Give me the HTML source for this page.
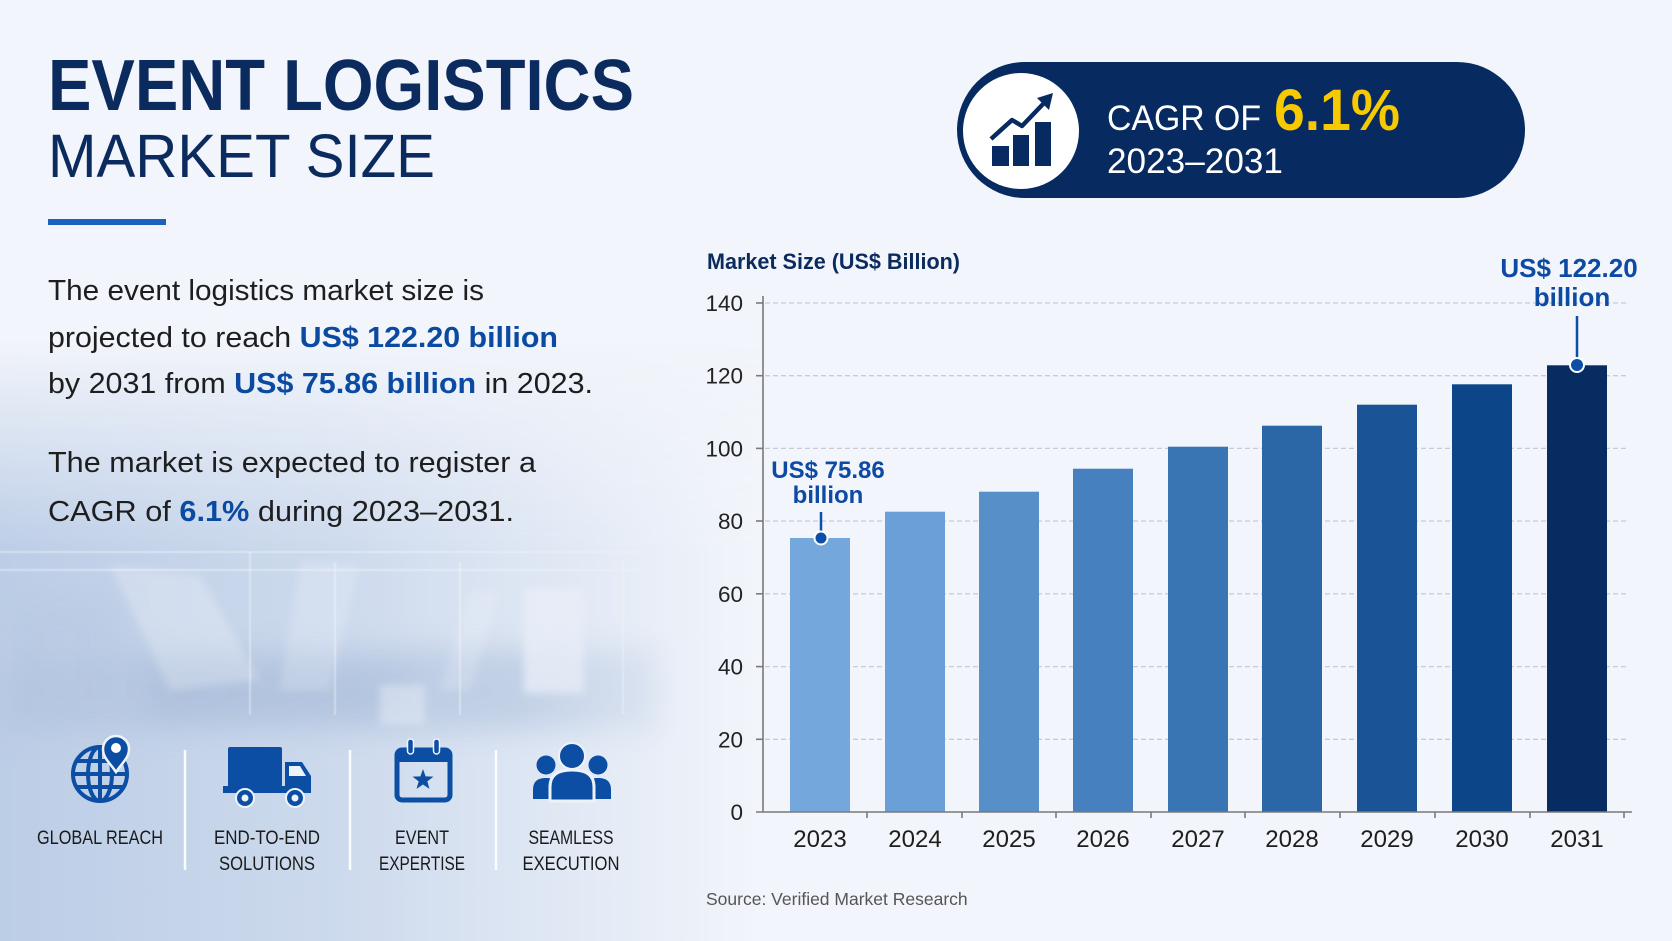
<!DOCTYPE html>
<html>
<head>
<meta charset="utf-8">
<style>
  html, body { margin:0; padding:0; background:#f2f5fb; }
  body { width:1672px; height:941px; overflow:hidden; }
  svg { display:block; }
  text { font-family: "Liberation Sans", sans-serif; }
</style>
</head>
<body>
<svg width="1672" height="941" viewBox="0 0 1672 941" xmlns="http://www.w3.org/2000/svg">
  <defs>
    <linearGradient id="photoH" x1="0" y1="0" x2="1" y2="0">
      <stop offset="0" stop-color="#bccde6"/>
      <stop offset="0.45" stop-color="#cddaed"/>
      <stop offset="1" stop-color="#f2f5fb"/>
    </linearGradient>
    <linearGradient id="fadeV" x1="0" y1="0" x2="0" y2="1">
      <stop offset="0" stop-color="#fff" stop-opacity="0"/>
      <stop offset="0.35" stop-color="#fff" stop-opacity="1"/>
      <stop offset="1" stop-color="#fff" stop-opacity="1"/>
    </linearGradient>
    <mask id="mV" maskUnits="userSpaceOnUse" x="0" y="340" width="760" height="601">
      <rect x="0" y="340" width="760" height="601" fill="url(#fadeV)"/>
    </mask>
    <linearGradient id="fadeH" x1="0" y1="0" x2="1" y2="0">
      <stop offset="0" stop-color="#fff" stop-opacity="1"/>
      <stop offset="0.7" stop-color="#fff" stop-opacity="0.8"/>
      <stop offset="1" stop-color="#fff" stop-opacity="0"/>
    </linearGradient>
    <mask id="mH" maskUnits="userSpaceOnUse" x="0" y="340" width="740" height="601">
      <rect x="0" y="340" width="740" height="601" fill="url(#fadeH)"/>
    </mask>
    <filter id="blur4" x="-10%" y="-10%" width="120%" height="120%"><feGaussianBlur stdDeviation="4"/></filter>
    <filter id="blur14" x="-30%" y="-60%" width="160%" height="220%"><feGaussianBlur stdDeviation="14"/></filter>
  </defs>

  <!-- background -->
  <rect x="0" y="0" width="1672" height="941" fill="#f2f5fb"/>
  <g mask="url(#mV)">
    <rect x="0" y="340" width="760" height="601" fill="url(#photoH)"/>
  </g>
  <!-- stage photo approximation -->
  <g mask="url(#mH)">
    <g filter="url(#blur14)" opacity="0.8">
      <rect x="0" y="650" width="660" height="80" fill="#b3c5df"/>
      <rect x="0" y="600" width="120" height="60" fill="#b9cae3"/>
      <rect x="150" y="665" width="260" height="55" fill="#a9bcd9"/>
    </g>
    <g filter="url(#blur4)">
      <rect x="524" y="588" width="60" height="105" fill="#eef2f9" opacity="0.75"/>
      <rect x="380" y="685" width="45" height="40" fill="#e6ecf6" opacity="0.55"/>
      <polygon points="110,565 200,575 260,680 170,690" fill="#ffffff" opacity="0.25"/>
      <polygon points="300,560 360,565 330,690 280,690" fill="#ffffff" opacity="0.2"/>
      <polygon points="470,590 500,590 470,690 440,690" fill="#ffffff" opacity="0.2"/>
    </g>
    <g stroke="#ffffff" stroke-opacity="0.3" stroke-width="2.5" fill="none">
      <path d="M0 552 L640 552 M0 570 L640 570"/>
      <path d="M250 552 V715 M335 562 V715 M460 562 V715 M623 562 V715"/>
    </g>
  </g>

  <!-- Title -->
  <text x="48" y="110" font-size="72" font-weight="700" fill="#0b2a5e" textLength="586" lengthAdjust="spacingAndGlyphs">EVENT LOGISTICS</text>
  <text x="48" y="177" font-size="61" font-weight="400" fill="#0b2a5e" textLength="387" lengthAdjust="spacingAndGlyphs">MARKET SIZE</text>
  <rect x="48" y="219" width="118" height="6" fill="#1a62bd"/>

  <!-- Paragraphs -->
  <g font-size="29" fill="#1e1e1e">
    <text x="48" y="300" textLength="436" lengthAdjust="spacingAndGlyphs">The event logistics market size is</text>
    <text x="48" y="347" textLength="510" lengthAdjust="spacingAndGlyphs">projected to reach <tspan font-weight="700" fill="#0b4aa1">US$ 122.20 billion</tspan></text>
    <text x="48" y="393" textLength="545" lengthAdjust="spacingAndGlyphs">by 2031 from <tspan font-weight="700" fill="#0b4aa1">US$ 75.86 billion</tspan> in 2023.</text>
    <text x="48" y="472" textLength="488" lengthAdjust="spacingAndGlyphs">The market is expected to register a</text>
    <text x="48" y="521" textLength="466" lengthAdjust="spacingAndGlyphs">CAGR of <tspan font-weight="700" fill="#0b4aa1">6.1%</tspan> during 2023–2031.</text>
  </g>

  <!-- separators -->
  <g stroke="#ffffff" stroke-width="2.5" opacity="0.9">
    <line x1="185" y1="750" x2="185" y2="870"/>
    <line x1="350" y1="750" x2="350" y2="870"/>
    <line x1="496" y1="750" x2="496" y2="870"/>
  </g>

  <!-- Globe icon -->
  <g stroke="#0b4ea3" stroke-width="4" fill="none">
    <circle cx="100" cy="774" r="27"/>
    <ellipse cx="100" cy="774" rx="12" ry="27"/>
    <line x1="100" y1="747" x2="100" y2="801"/>
    <line x1="73" y1="774" x2="127" y2="774"/>
    <path d="M77 761 H123 M77 787 H123"/>
  </g>
  <path d="M116 772 C110 763 103 758 103 749 A13 13 0 1 1 129 749 C129 758 122 763 116 772 Z" fill="#0b4ea3" stroke="#eef2f9" stroke-width="2.5"/>
  <circle cx="116" cy="748" r="5" fill="#ffffff"/>

  <!-- Truck icon -->
  <g fill="#0b4ea3">
    <rect x="228" y="747" width="54" height="40" rx="2"/>
    <path d="M285 762 H302 L311 776 V793 H285 Z"/>
    <rect x="223" y="786" width="88" height="7"/>
    <circle cx="245" cy="798" r="9" stroke="#eef2f9" stroke-width="2"/>
    <circle cx="295" cy="798" r="9" stroke="#eef2f9" stroke-width="2"/>
  </g>
  <path d="M289 766 H300 L306 776 H289 Z" fill="#eef2f9"/>
  <circle cx="245" cy="798" r="3.5" fill="#eef2f9"/>
  <circle cx="295" cy="798" r="3.5" fill="#eef2f9"/>

  <!-- Calendar icon -->
  <rect x="397" y="750" width="53" height="50" rx="5" fill="none" stroke="#0b4ea3" stroke-width="5"/>
  <rect x="397" y="750" width="53" height="12" fill="#0b4ea3"/>
  <rect x="407.5" y="739" width="6" height="15" rx="3" fill="#0b4ea3" stroke="#eef2f9" stroke-width="1.5"/>
  <rect x="433.5" y="739" width="6" height="15" rx="3" fill="#0b4ea3" stroke="#eef2f9" stroke-width="1.5"/>
  <polygon points="423,769 425.6,776.4 433.5,776.6 427.3,781.4 429.5,788.9 423,784.5 416.5,788.9 418.7,781.4 412.5,776.6 420.4,776.4" fill="#0b4ea3"/>

  <!-- People icon -->
  <g fill="#0b4ea3">
    <circle cx="546" cy="765" r="9.5"/>
    <circle cx="598" cy="765" r="9.5"/>
    <path d="M533 799 V790 C533 781 538 778 546 778 C554 778 558 781 558 790 V799 Z"/>
    <path d="M586 799 V790 C586 781 590 778 598 778 C606 778 611 781 611 790 V799 Z"/>
    <circle cx="572" cy="756" r="13" stroke="#eef2f9" stroke-width="2"/>
    <path d="M550 801 V787 C550 774 559 770 572 770 C585 770 594 774 594 787 V801 Z" stroke="#eef2f9" stroke-width="3"/>
  </g>

  <!-- icon labels -->
  <g font-size="19" fill="#1a1a1a" text-anchor="middle">
    <text x="100" y="844" textLength="126" lengthAdjust="spacingAndGlyphs">GLOBAL REACH</text>
    <text x="267" y="844" textLength="106" lengthAdjust="spacingAndGlyphs">END-TO-END</text>
    <text x="267" y="870" textLength="96" lengthAdjust="spacingAndGlyphs">SOLUTIONS</text>
    <text x="422" y="844" textLength="54" lengthAdjust="spacingAndGlyphs">EVENT</text>
    <text x="422" y="870" textLength="86" lengthAdjust="spacingAndGlyphs">EXPERTISE</text>
    <text x="571" y="844" textLength="85" lengthAdjust="spacingAndGlyphs">SEAMLESS</text>
    <text x="571" y="870" textLength="97" lengthAdjust="spacingAndGlyphs">EXECUTION</text>
  </g>

  <!-- CAGR badge -->
  <rect x="957" y="62" width="568" height="136" rx="68" fill="#072a61"/>
  <circle cx="1021" cy="131" r="58" fill="#ffffff"/>
  <g fill="#072a61">
    <rect x="992" y="146" width="17" height="20"/>
    <rect x="1013" y="135" width="16" height="31"/>
    <rect x="1035" y="122" width="16" height="44"/>
    <polygon points="1053,93 1037,98 1049,110"/>
  </g>
  <polyline points="991,139 1012,120 1022,126 1045,102" fill="none" stroke="#072a61" stroke-width="4.5" stroke-linejoin="round"/>
  <text x="1107" y="130" font-size="35" fill="#ffffff" textLength="154" lengthAdjust="spacingAndGlyphs">CAGR OF</text>
  <text x="1274" y="130" font-size="58" font-weight="700" fill="#f7c900" textLength="126" lengthAdjust="spacingAndGlyphs">6.1%</text>
  <text x="1107" y="173" font-size="35" fill="#ffffff" textLength="176" lengthAdjust="spacingAndGlyphs">2023–2031</text>

  <!-- Chart title -->
  <text x="707" y="269" font-size="22" font-weight="700" fill="#0b2a5e" textLength="253" lengthAdjust="spacingAndGlyphs">Market Size (US$ Billion)</text>

  <!-- gridlines -->
  <g stroke="#c9ccd3" stroke-width="1.3" stroke-dasharray="5 3">
    <line x1="765" y1="303" x2="1627" y2="303"/>
    <line x1="765" y1="375.7" x2="1627" y2="375.7"/>
    <line x1="765" y1="448.4" x2="1627" y2="448.4"/>
    <line x1="765" y1="521" x2="1627" y2="521"/>
    <line x1="765" y1="593.8" x2="1627" y2="593.8"/>
    <line x1="765" y1="666.6" x2="1627" y2="666.6"/>
    <line x1="765" y1="739.3" x2="1627" y2="739.3"/>
  </g>

  <!-- bars -->
  <rect x="790" y="538" width="60" height="274" fill="#74a7dc"/>
  <rect x="885" y="511.7" width="60" height="300.3" fill="#6a9fd7"/>
  <rect x="979" y="491.7" width="60" height="320.3" fill="#578fc8"/>
  <rect x="1073" y="468.7" width="60" height="343.3" fill="#4680bf"/>
  <rect x="1168" y="446.7" width="60" height="365.3" fill="#3a75b3"/>
  <rect x="1262" y="425.7" width="60" height="386.3" fill="#2b66a7"/>
  <rect x="1357" y="404.7" width="60" height="407.3" fill="#1a5396"/>
  <rect x="1452" y="384.3" width="60" height="427.7" fill="#0c4588"/>
  <rect x="1547" y="365.3" width="60" height="446.7" fill="#072c62"/>

  <!-- axes -->
  <g stroke="#7a7a7a" stroke-width="1.6">
    <line x1="763" y1="296" x2="763" y2="812"/>
    <line x1="756" y1="812" x2="1632" y2="812"/>
    <line x1="756" y1="303" x2="763" y2="303"/>
    <line x1="756" y1="375.7" x2="763" y2="375.7"/>
    <line x1="756" y1="448.4" x2="763" y2="448.4"/>
    <line x1="756" y1="521" x2="763" y2="521"/>
    <line x1="756" y1="593.8" x2="763" y2="593.8"/>
    <line x1="756" y1="666.6" x2="763" y2="666.6"/>
    <line x1="756" y1="739.3" x2="763" y2="739.3"/>
    <line x1="867" y1="812" x2="867" y2="818"/>
    <line x1="962" y1="812" x2="962" y2="818"/>
    <line x1="1056" y1="812" x2="1056" y2="818"/>
    <line x1="1151" y1="812" x2="1151" y2="818"/>
    <line x1="1245" y1="812" x2="1245" y2="818"/>
    <line x1="1340" y1="812" x2="1340" y2="818"/>
    <line x1="1435" y1="812" x2="1435" y2="818"/>
    <line x1="1530" y1="812" x2="1530" y2="818"/>
    <line x1="1624" y1="812" x2="1624" y2="818"/>
  </g>

  <!-- y labels -->
  <g font-size="22.5" fill="#222222" text-anchor="end">
    <text x="743" y="311">140</text>
    <text x="743" y="383.7">120</text>
    <text x="743" y="456.4">100</text>
    <text x="743" y="529">80</text>
    <text x="743" y="601.8">60</text>
    <text x="743" y="674.6">40</text>
    <text x="743" y="747.3">20</text>
    <text x="743" y="820">0</text>
  </g>

  <!-- x labels -->
  <g font-size="24" fill="#1e1e1e" text-anchor="middle">
    <text x="820" y="847">2023</text>
    <text x="915" y="847">2024</text>
    <text x="1009" y="847">2025</text>
    <text x="1103" y="847">2026</text>
    <text x="1198" y="847">2027</text>
    <text x="1292" y="847">2028</text>
    <text x="1387" y="847">2029</text>
    <text x="1482" y="847">2030</text>
    <text x="1577" y="847">2031</text>
  </g>

  <!-- annotations -->
  <g font-weight="700" fill="#0d4aa3" text-anchor="middle">
    <text x="828" y="478" font-size="24">US$ 75.86</text>
    <text x="828" y="503" font-size="24">billion</text>
    <text x="1569" y="277" font-size="26">US$ 122.20</text>
    <text x="1572" y="306" font-size="26">billion</text>
  </g>
  <line x1="821" y1="512" x2="821" y2="538" stroke="#0d4ea6" stroke-width="2.5"/>
  <circle cx="821" cy="538" r="6.5" fill="#0d4ea6" stroke="#ffffff" stroke-width="2"/>
  <line x1="1577" y1="316" x2="1577" y2="365" stroke="#0d4ea6" stroke-width="2.5"/>
  <circle cx="1577" cy="365" r="7" fill="#0d4ea6" stroke="#ffffff" stroke-width="2"/>

  <!-- source -->
  <text x="706" y="905" font-size="17.5" fill="#555555">Source: Verified Market Research</text>
</svg>
</body>
</html>
